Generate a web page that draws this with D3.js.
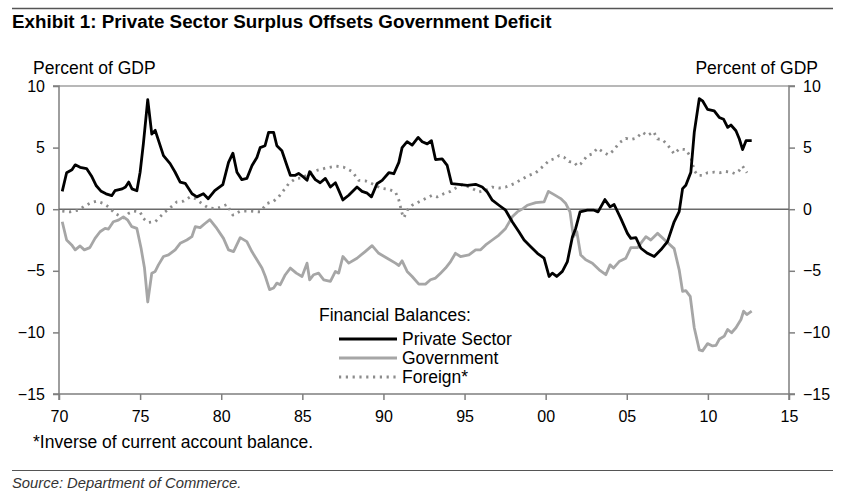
<!DOCTYPE html>
<html>
<head>
<meta charset="utf-8">
<script src="https://cdn.jsdelivr.net/npm/d3@7/dist/d3.min.js"></script>
<style>
  body { margin: 0; background: #fff; }
  svg { display: block; font-family: "Liberation Sans", Arial, sans-serif; }
  .tick-label { font-size: 16px; fill: #000; }
</style>
</head>
<body>
<div id="chart"></div>
<script>
// [year, percent of GDP]
const privateSector = [
  [1970.2, 1.45], [1970.47, 2.96], [1970.8, 3.2], [1971.0, 3.6], [1971.3, 3.4], [1971.7, 3.3],
  [1972.0, 2.7], [1972.3, 1.9], [1972.6, 1.45], [1972.9, 1.25], [1973.25, 1.1], [1973.45, 1.5],
  [1973.9, 1.65], [1974.1, 1.8], [1974.3, 2.2], [1974.5, 1.65], [1974.8, 1.5], [1975.0, 3.0],
  [1975.2, 5.3], [1975.47, 8.9], [1975.72, 6.1], [1975.93, 6.4], [1976.44, 4.35], [1976.85, 3.7],
  [1977.16, 3.0], [1977.47, 2.2], [1977.78, 2.1], [1978.2, 1.25], [1978.5, 1.0], [1978.9, 1.25],
  [1979.2, 0.85], [1979.6, 1.5], [1980.1, 2.0], [1980.45, 3.8], [1980.72, 4.55], [1980.97, 3.0],
  [1981.27, 2.4], [1981.58, 2.5], [1981.9, 3.55], [1982.2, 4.2], [1982.4, 5.0], [1982.7, 5.15],
  [1982.92, 6.24], [1983.23, 6.24], [1983.43, 5.15], [1983.74, 4.75], [1984.05, 3.55], [1984.26, 2.75],
  [1984.57, 2.75], [1984.77, 2.9], [1985.08, 2.6], [1985.29, 2.35], [1985.45, 3.05], [1985.8, 2.4],
  [1986.1, 2.15], [1986.42, 2.5], [1986.73, 1.8], [1987.04, 2.15], [1987.24, 1.55], [1987.5, 0.75],
  [1987.86, 1.13], [1988.37, 1.8], [1988.68, 1.45], [1989.0, 1.3], [1989.26, 1.0], [1989.6, 2.07],
  [1989.92, 2.34], [1990.33, 2.96], [1990.64, 2.88], [1990.95, 3.8], [1991.15, 5.0], [1991.46, 5.48],
  [1991.77, 5.2], [1992.14, 5.83], [1992.39, 5.48], [1992.7, 5.3], [1992.96, 5.56], [1993.21, 4.03],
  [1993.62, 4.09], [1993.93, 3.55], [1994.2, 2.07], [1994.65, 2.02], [1995.17, 1.94], [1995.68, 2.02],
  [1996.09, 1.8], [1996.4, 1.4], [1996.71, 0.73], [1997.12, 0.32], [1997.53, -0.08], [1997.94, -1.02],
  [1998.35, -1.83], [1998.67, -2.5], [1999.08, -3.04], [1999.49, -3.58], [1999.9, -3.98], [2000.21, -5.46],
  [2000.41, -5.19], [2000.68, -5.46], [2001.03, -5.05], [2001.34, -4.25], [2001.65, -2.23], [2001.85, -1.56],
  [2002.12, -0.22], [2002.57, -0.08], [2002.98, -0.08], [2003.23, -0.22], [2003.65, 0.78], [2003.97, 0.19],
  [2004.22, 0.38], [2004.63, -0.75], [2005.04, -1.96], [2005.25, -2.37], [2005.56, -2.31], [2005.87, -3.17],
  [2006.28, -3.58], [2006.69, -3.84], [2007.1, -3.3], [2007.51, -2.63], [2007.92, -1.02], [2008.23, -0.2],
  [2008.44, 1.67], [2008.64, 1.94], [2008.95, 3.0], [2009.16, 6.24], [2009.47, 8.98], [2009.67, 8.8],
  [2009.98, 8.1], [2010.39, 7.98], [2010.7, 7.45], [2010.97, 7.3], [2011.22, 6.64], [2011.42, 6.83],
  [2011.73, 6.37], [2011.94, 5.7], [2012.14, 4.84], [2012.35, 5.56], [2012.7, 5.56]
];

const government = [
  [1970.2, -1.02], [1970.47, -2.5], [1970.78, -2.9], [1971.0, -3.3], [1971.3, -2.98], [1971.56, -3.3],
  [1971.9, -3.12], [1972.22, -2.37], [1972.53, -1.83], [1972.84, -1.56], [1973.05, -1.61], [1973.35, -1.02],
  [1973.66, -0.89], [1973.97, -0.62], [1974.24, -0.89], [1974.49, -1.42], [1974.8, -1.56], [1975.06, -3.17],
  [1975.27, -4.78], [1975.47, -7.53], [1975.72, -5.19], [1975.93, -5.05], [1976.13, -4.52], [1976.44, -3.84],
  [1976.75, -3.71], [1977.16, -3.3], [1977.47, -2.77], [1977.88, -2.5], [1978.19, -2.23], [1978.4, -1.42],
  [1978.7, -1.5], [1979.0, -1.16], [1979.3, -0.85], [1979.73, -1.56], [1980.14, -2.37], [1980.45, -3.3],
  [1980.76, -3.44], [1981.17, -2.31], [1981.58, -2.63], [1981.89, -3.44], [1982.2, -4.11], [1982.51, -4.78],
  [1982.72, -5.46], [1982.98, -6.53], [1983.23, -6.4], [1983.43, -6.0], [1983.64, -6.13], [1983.95, -5.32],
  [1984.26, -4.78], [1984.63, -5.19], [1984.98, -5.46], [1985.29, -4.38], [1985.45, -5.73], [1985.7, -5.32],
  [1986.0, -5.19], [1986.32, -5.73], [1986.73, -5.86], [1987.04, -5.05], [1987.24, -5.19], [1987.5, -3.84],
  [1987.86, -4.38], [1988.37, -3.98], [1988.89, -3.42], [1989.3, -2.96], [1989.71, -3.58], [1990.23, -3.98],
  [1990.74, -4.38], [1990.95, -4.57], [1991.15, -4.19], [1991.46, -5.05], [1991.77, -5.46], [1992.18, -6.08],
  [1992.59, -6.08], [1992.9, -5.73], [1993.21, -5.59], [1993.52, -5.19], [1993.83, -4.78], [1994.14, -4.25],
  [1994.44, -3.58], [1994.75, -3.84], [1995.27, -3.71], [1995.68, -3.3], [1995.99, -3.3], [1996.3, -2.9],
  [1996.71, -2.5], [1997.12, -2.1], [1997.53, -1.56], [1997.94, -0.62], [1998.25, -0.22], [1998.6, 0.05],
  [1998.87, 0.32], [1999.39, 0.54], [1999.9, 0.59], [2000.17, 1.45], [2000.52, 1.18], [2000.93, 0.86],
  [2001.24, 0.46], [2001.5, -0.22], [2001.71, -2.23], [2001.92, -1.83], [2002.16, -3.71], [2002.47, -4.11],
  [2002.88, -4.38], [2003.3, -4.92], [2003.71, -5.32], [2003.97, -4.52], [2004.18, -4.78], [2004.53, -4.25],
  [2004.94, -3.98], [2005.25, -3.12], [2005.66, -3.12], [2006.18, -2.23], [2006.48, -2.5], [2006.9, -1.96],
  [2007.51, -2.7], [2007.92, -3.2], [2008.23, -4.92], [2008.44, -6.67], [2008.64, -6.61], [2008.91, -7.07],
  [2009.16, -9.62], [2009.47, -11.42], [2009.67, -11.5], [2009.98, -10.91], [2010.29, -11.1], [2010.5, -11.05],
  [2010.7, -10.56], [2011.01, -10.3], [2011.22, -9.76], [2011.46, -10.03], [2011.73, -9.62], [2012.04, -8.95],
  [2012.2, -8.28], [2012.4, -8.55], [2012.7, -8.28]
];

const foreign = [
  [1970.2, -0.16], [1970.68, -0.22], [1971.2, -0.08], [1971.6, 0.27], [1972.0, 0.54], [1972.33, 0.65],
  [1972.74, 0.46], [1973.05, 0.19], [1973.46, -0.35], [1973.97, -0.7], [1974.28, -0.35], [1974.6, -0.16],
  [1975.0, -0.22], [1975.2, -0.75], [1975.5, -1.08], [1975.93, -1.02], [1976.23, -0.62], [1976.54, -0.22],
  [1976.85, 0.11], [1977.26, 0.59], [1977.67, 0.65], [1978.09, 1.0], [1978.4, 0.86], [1978.8, 0.46],
  [1979.2, 0.11], [1979.6, 0.05], [1979.83, 0.11], [1980.35, 0.38], [1980.72, -0.48], [1981.17, -0.16],
  [1981.79, -0.16], [1982.4, -0.22], [1982.82, 0.46], [1983.23, 0.65], [1983.54, 1.0], [1983.85, 1.53],
  [1984.16, 2.07], [1984.57, 2.47], [1984.98, 2.53], [1985.49, 2.96], [1985.9, 3.15], [1986.42, 3.33],
  [1987.04, 3.5], [1987.55, 3.41], [1988.07, 3.06], [1988.48, 2.34], [1988.89, 2.3], [1989.3, 2.07],
  [1989.81, 1.72], [1990.33, 1.61], [1990.74, 1.4], [1990.95, 0.73], [1991.15, -0.35], [1991.26, -0.7],
  [1991.46, -0.08], [1991.77, 0.32], [1992.18, 0.59], [1992.59, 0.86], [1993.0, 1.13], [1993.31, 1.0],
  [1993.72, 1.26], [1994.14, 1.45], [1994.55, 1.8], [1994.86, 1.99], [1995.27, 1.8], [1995.89, 1.4],
  [1996.3, 1.53], [1996.71, 1.8], [1997.12, 1.72], [1997.53, 1.8], [1998.05, 2.07], [1998.46, 2.38],
  [1998.97, 2.74], [1999.39, 2.96], [1999.9, 3.55], [2000.21, 3.95], [2000.52, 4.09], [2000.83, 4.35],
  [2001.13, 4.22], [2001.44, 3.87], [2001.75, 3.82], [2001.96, 3.5], [2002.16, 3.68], [2002.57, 4.35],
  [2002.88, 4.49], [2003.19, 4.95], [2003.5, 4.68], [2003.85, 4.41], [2004.18, 4.76], [2004.53, 5.38],
  [2004.94, 5.75], [2005.25, 5.65], [2005.56, 5.75], [2005.97, 6.24], [2006.28, 5.97], [2006.65, 6.29],
  [2006.9, 5.7], [2007.2, 5.65], [2007.51, 5.22], [2007.92, 4.49], [2008.23, 4.89], [2008.64, 4.84],
  [2008.95, 4.22], [2009.16, 3.15], [2009.37, 2.74], [2009.67, 2.74], [2009.98, 2.96], [2010.39, 3.01],
  [2010.76, 2.96], [2011.11, 3.06], [2011.42, 3.01], [2011.67, 2.88], [2011.94, 3.15], [2012.14, 3.5],
  [2012.41, 2.96]
];

const xTicks = [1970, 1975, 1980, 1985, 1990, 1995, 2000, 2005, 2010, 2015];
const xTickLabels = ["70", "75", "80", "85", "90", "95", "00", "05", "10", "15"];
const yTicks = [10, 5, 0, -5, -10, -15];
const legendNames = ["Private Sector", "Government", "Foreign*"];

const width = 842, height = 491;
const plot = { left: 59, right: 789, top: 86, bottom: 394 };

const svg = d3.select("#chart").append("svg")
  .attr("width", width).attr("height", height);

const x = d3.scaleLinear().domain([1970, 2015]).range([plot.left, plot.right]);
const y = d3.scaleLinear().domain([-15, 10]).range([plot.bottom, plot.top]);

// title + rules
svg.append("line").attr("x1", 12).attr("x2", 833).attr("y1", 8.5).attr("y2", 8.5)
  .attr("stroke", "#555").attr("stroke-width", 1.5);
svg.append("text").attr("x", 12).attr("y", 28)
  .attr("font-size", 18.8).attr("font-weight", "bold").text("Exhibit 1: Private Sector Surplus Offsets Government Deficit");

svg.append("text").attr("x", 33).attr("y", 74).attr("font-size", 17.5).text("Percent of GDP");
svg.append("text").attr("x", 818).attr("y", 74).attr("font-size", 17.5).attr("text-anchor", "end").text("Percent of GDP");

// top border
svg.append("line").attr("x1", plot.left).attr("x2", plot.right).attr("y1", plot.top).attr("y2", plot.top)
  .attr("stroke", "#a0a0a0").attr("stroke-width", 1.5);

// axes
const axisColor = "#7f7f7f";
const leftAxis = svg.append("g").attr("transform", `translate(${plot.left},0)`)
  .call(d3.axisLeft(y).tickValues(yTicks).tickSize(6).tickPadding(8));
const rightAxis = svg.append("g").attr("transform", `translate(${plot.right},0)`)
  .call(d3.axisRight(y).tickValues(yTicks).tickSize(6).tickPadding(8));
const bottomAxis = svg.append("g").attr("transform", `translate(0,${plot.bottom})`)
  .call(d3.axisBottom(x).tickValues(xTicks).tickFormat((d, i) => xTickLabels[i]).tickSize(6).tickPadding(11));

[leftAxis, rightAxis, bottomAxis].forEach(g => {
  g.select(".domain").attr("stroke", axisColor).attr("stroke-width", 1.5);
  g.selectAll(".tick line").attr("stroke", axisColor).attr("stroke-width", 1.5);
  g.selectAll(".tick text").attr("class", "tick-label").attr("font-family", null).attr("font-size", null);
});
leftAxis.select(".domain").attr("d", `M-6,${plot.top}H0V${plot.bottom}H-6`);
rightAxis.select(".domain").attr("d", `M6,${plot.top}H0V${plot.bottom}H6`);
bottomAxis.select(".domain").attr("d", `M${plot.left},6V0H${plot.right}V6`);

// zero line
svg.append("line").attr("x1", plot.left).attr("x2", plot.right).attr("y1", y(0)).attr("y2", y(0))
  .attr("stroke", "#6a6a6a").attr("stroke-width", 1.5);

const line = d3.line().x(d => x(d[0])).y(d => y(d[1]));

const styles = [
  { data: privateSector, stroke: "#000", dash: null },
  { data: government, stroke: "#a6a6a6", dash: null },
  { data: foreign, stroke: "#8c8c8c", dash: "2.2,4.6" }
];

// foreign drawn first, then government, then private on top
[styles[2], styles[1], styles[0]].forEach(s => {
  svg.append("path").datum(s.data).attr("d", line)
    .attr("fill", "none").attr("stroke", s.stroke).attr("stroke-width", 2.8)
    .attr("stroke-dasharray", s.dash).attr("stroke-linejoin", "round");
});

// legend
const legend = svg.append("g");
legend.append("text").attr("x", 319).attr("y", 321).attr("font-size", 17.5).text("Financial Balances:");
const rowY = [339, 358, 377];
styles.forEach((s, i) => {
  legend.append("line").attr("x1", 339).attr("x2", 397).attr("y1", rowY[i]).attr("y2", rowY[i])
    .attr("stroke", s.stroke).attr("stroke-width", 2.8).attr("stroke-dasharray", s.dash);
  legend.append("text").attr("x", 402).attr("y", rowY[i] + 6).attr("font-size", 17.5).text(legendNames[i]);
});

// footnote + source
svg.append("text").attr("x", 33).attr("y", 448).attr("font-size", 17.5).text("*Inverse of current account balance.");
svg.append("line").attr("x1", 12).attr("x2", 833).attr("y1", 470.5).attr("y2", 470.5)
  .attr("stroke", "#555").attr("stroke-width", 1.2);
svg.append("text").attr("x", 12).attr("y", 488).attr("font-size", 14.8).attr("font-style", "italic")
  .attr("fill", "#333").text("Source: Department of Commerce.");
</script>
</body>
</html>
